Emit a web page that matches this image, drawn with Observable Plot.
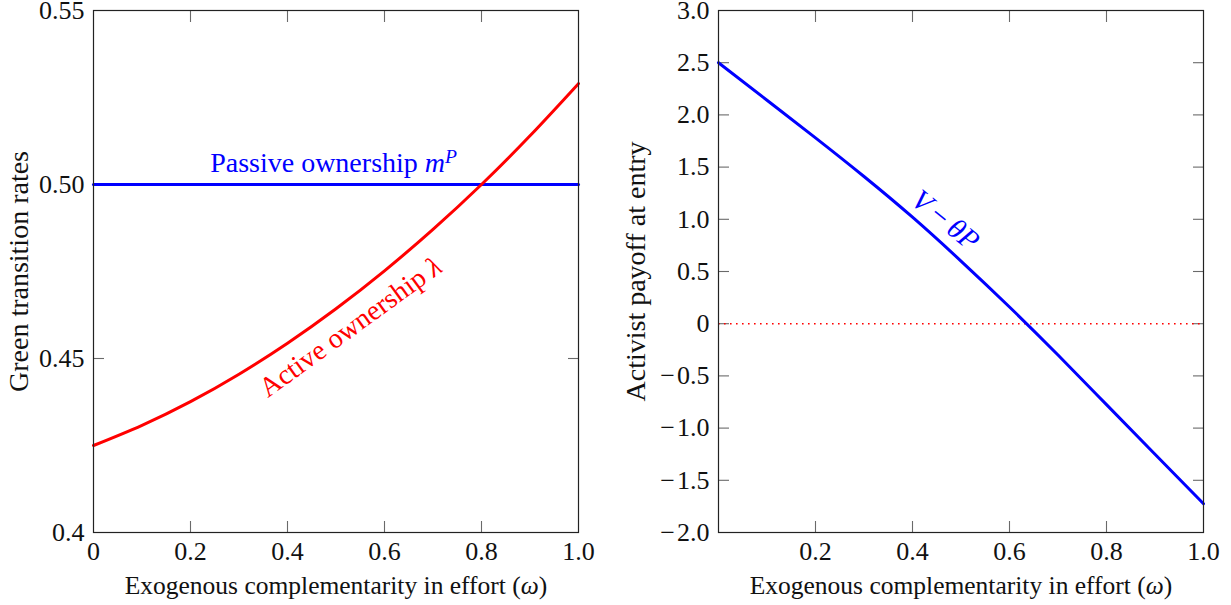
<!DOCTYPE html>
<html>
<head>
<meta charset="utf-8">
<script src="https://cdn.jsdelivr.net/npm/d3@7"></script>
<script src="https://cdn.jsdelivr.net/npm/@observablehq/plot@0.6"></script>
<style>
  html, body { margin: 0; padding: 0; background: #fff; }
  #wrap { display: flex; flex-direction: row; width: 1231px; height: 605px; }
  svg, svg text, svg tspan, svg g { font-family: "Liberation Serif", "Times New Roman", serif !important; }
</style>
</head>
<body>
<div id="wrap"></div>
<script>
// ---- Data ----
const omega = [0, 0.1, 0.2, 0.3, 0.4, 0.5, 0.6, 0.7, 0.8, 0.9, 1.0];
const activeLambda = [0.4250, 0.4308, 0.4376, 0.4455, 0.4544, 0.4643, 0.4752, 0.4871, 0.5000, 0.5140, 0.5290];
const passiveOmega = [0, 1];
const passiveMP = [0.5, 0.5];
const payoff = [2.50, 2.14, 1.78, 1.41, 1.02, 0.60, 0.16, -0.30, -0.775, -1.25, -1.724];

const leftYTicks = [0.4, 0.45, 0.5, 0.55];
const leftYLabels = ["0.4", "0.45", "0.50", "0.55"];
const leftXTicks = [0, 0.2, 0.4, 0.6, 0.8, 1.0];
const leftXLabels = ["0", "0.2", "0.4", "0.6", "0.8", "1.0"];
const rightYTicks = [-2, -1.5, -1, -0.5, 0, 0.5, 1, 1.5, 2, 2.5, 3];
const rightYLabels = ["\u2212\u200a2.0", "\u2212\u200a1.5", "\u2212\u200a1.0", "\u2212\u200a0.5", "0", "0.5", "1.0", "1.5", "2.0", "2.5", "3.0"];
const rightXTicks = [0.2, 0.4, 0.6, 0.8, 1.0];
const rightXLabels = ["0.2", "0.4", "0.6", "0.8", "1.0"];
const innerXTicks = [0.2, 0.4, 0.6, 0.8];

const xLabel = "Exogenous complementarity in effort (\u03c9)";
const leftYLabel = "Green transition rates";
const rightYLabel = "Activist payoff at entry";
const passiveText = "Passive ownership mP";
const activeText = "Active ownership \u03bb";
const payoffText = "V \u2212 \u03b8P";

const RED = "#ff0000", BLUE = "#0000ff";
const TICK = "#6a6a6a";
const FONT = '"Liberation Serif", "Times New Roman", serif';
const tickFont = 26, xLabelFont = 25.5, yLabelFont = 28, annFont = 28;

const leftData = omega.map((x, i) => ({x, y: activeLambda[i]}));
const passiveData = passiveOmega.map((x, i) => ({x, y: passiveMP[i]}));
const rightData = omega.map((x, i) => ({x, y: payoff[i]}));

function fmt(ticks, labels) { return v => { const i = ticks.findIndex(t => Math.abs(t - v) < 1e-9); return i >= 0 ? labels[i] : ""; }; }

function inwardTicks(xt, yt) {
  return [
    Plot.axisX({anchor: "bottom", ticks: xt, tickSize: -11, text: null, label: null, stroke: TICK, strokeWidth: 1.1}),
    Plot.axisX({anchor: "top", ticks: xt, tickSize: -11, text: null, label: null, stroke: TICK, strokeWidth: 1.1}),
    Plot.axisY({anchor: "left", ticks: yt, tickSize: -11, text: null, label: null, stroke: TICK, strokeWidth: 1.1}),
    Plot.axisY({anchor: "right", ticks: yt, tickSize: -11, text: null, label: null, stroke: TICK, strokeWidth: 1.1})
  ];
}

const left = Plot.plot({
  width: 615, height: 605,
  marginLeft: 93, marginRight: 37, marginTop: 10, marginBottom: 73,
  style: {fontFamily: FONT, background: "white"},
  x: {domain: [0, 1]},
  y: {domain: [0.4, 0.55]},
  marks: [
    ...inwardTicks(innerXTicks, [0.45, 0.5]),
    Plot.axisX({anchor: "bottom", ticks: leftXTicks, tickFormat: fmt(leftXTicks, leftXLabels), tickSize: 0, tickPadding: 9, fontSize: tickFont, label: null, fill: "#111"}),
    Plot.axisY({anchor: "left", ticks: leftYTicks, tickFormat: fmt(leftYTicks, leftYLabels), tickSize: 0, tickPadding: 9, fontSize: tickFont, label: null, fill: "#111"}),
    Plot.line(passiveData, {x: "x", y: "y", stroke: BLUE, strokeWidth: 3}),
    Plot.line(leftData, {x: "x", y: "y", stroke: RED, strokeWidth: 3, curve: "natural"}),
    Plot.text([passiveText], {x: 0.495, y: 0.5063, text: d => d, fill: BLUE, fontSize: annFont, textAnchor: "middle", lineAnchor: "middle"}),
    Plot.text([activeText], {x: 0.53, y: 0.459, text: d => d, fill: RED, fontSize: annFont, rotate: -36, textAnchor: "middle", lineAnchor: "middle"}),
    Plot.text([xLabel], {frameAnchor: "bottom", dy: 53, text: d => d, fontSize: xLabelFont, fill: "#111", textAnchor: "middle", lineAnchor: "middle"}),
    Plot.text([leftYLabel], {frameAnchor: "left", dx: -74, rotate: -90, text: d => d, fontSize: yLabelFont, fill: "#111", textAnchor: "middle", lineAnchor: "middle"}),
    Plot.frame({stroke: "#222", strokeWidth: 1.2})
  ]
});

const right = Plot.plot({
  width: 616, height: 605,
  marginLeft: 103, marginRight: 28, marginTop: 10, marginBottom: 73,
  style: {fontFamily: FONT, background: "white"},
  x: {domain: [0, 1]},
  y: {domain: [-2, 3]},
  marks: [
    ...inwardTicks(innerXTicks, rightYTicks.slice(1, -1)),
    Plot.axisX({anchor: "bottom", ticks: rightXTicks, tickFormat: fmt(rightXTicks, rightXLabels), tickSize: 0, tickPadding: 9, fontSize: tickFont, label: null, fill: "#111"}),
    Plot.axisY({anchor: "left", ticks: rightYTicks, tickFormat: fmt(rightYTicks, rightYLabels), tickSize: 0, tickPadding: 9, fontSize: tickFont, label: null, fill: "#111"}),
    Plot.ruleY([0], {stroke: RED, strokeWidth: 1.6, strokeDasharray: "1.6,4.4"}),
    Plot.line(rightData, {x: "x", y: "y", stroke: BLUE, strokeWidth: 3, curve: "natural"}),
    Plot.text([payoffText], {x: 0.468, y: 0.99, text: d => d, fill: BLUE, fontSize: 29, rotate: 39, textAnchor: "middle", lineAnchor: "middle"}),
    Plot.text([xLabel], {frameAnchor: "bottom", dy: 53, text: d => d, fontSize: xLabelFont, fill: "#111", textAnchor: "middle", lineAnchor: "middle"}),
    Plot.text([rightYLabel], {frameAnchor: "left", dx: -82, rotate: -90, text: d => d, fontSize: yLabelFont, fill: "#111", textAnchor: "middle", lineAnchor: "middle"}),
    Plot.frame({stroke: "#222", strokeWidth: 1.2})
  ]
});

const wrap = document.getElementById("wrap");
wrap.appendChild(left);
wrap.appendChild(right);

// Rich text (italic math symbols) applied to the rendered text elements
const rich = {
  [xLabel]: 'Exogenous complementarity in effort (<tspan font-style="italic">\u03c9</tspan>)',
  [passiveText]: 'Passive ownership <tspan font-style="italic">m</tspan><tspan font-style="italic" font-size="70%" dy="-0.45em">P</tspan>',
  [activeText]: 'Active ownership <tspan font-style="italic">\u03bb</tspan>',
  [payoffText]: '<tspan font-style="italic">V</tspan>\u2009\u2212\u2009<tspan font-style="italic">\u03b8P</tspan>'
};
document.querySelectorAll("svg text").forEach(t => {
  const s = t.textContent;
  if (rich[s] !== undefined && t.children.length === 0) t.innerHTML = rich[s];
});
</script>
</body>
</html>
